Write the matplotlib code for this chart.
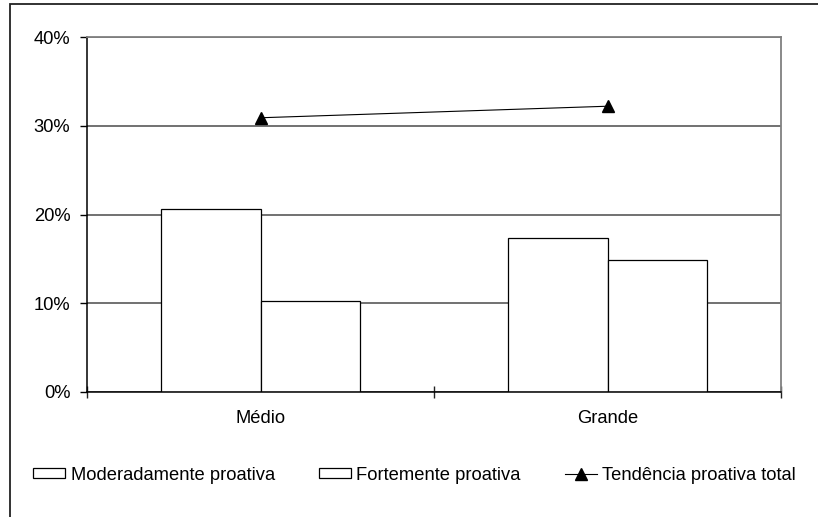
import matplotlib.pyplot as plt
import numpy as np
from matplotlib.patches import Rectangle

plt.rcParams['font.family'] = ['Liberation Sans', 'DejaVu Sans']

categorias = ['Médio', 'Grande']
moderada = [20.6, 17.3]
forte = [10.3, 14.9]
total = [m + f for m, f in zip(moderada, forte)]
yticks = [0, 10, 20, 30, 40]

x = np.arange(len(categorias))
width = 0.288
fs = 13.2

fig = plt.figure(figsize=(8.18, 5.17), dpi=100)
ax = fig.add_axes([87 / 818, 1 - 392 / 517, 694 / 818, 355 / 517])

# moldura externa (somente topo e esquerda aparecem)
fig.patches.append(Rectangle((10 / 818, -0.1), 1.2, 1 - 4 / 517 + 0.1,
                             transform=fig.transFigure, fill=False,
                             edgecolor='#222222', linewidth=1.3))

b1 = ax.bar(x - width, moderada, width, align='edge', color='white',
            edgecolor='black', linewidth=0.9, label='Moderadamente proativa', zorder=2)
b2 = ax.bar(x, forte, width, align='edge', color='white',
            edgecolor='black', linewidth=0.9, label='Fortemente proativa', zorder=2)
l1, = ax.plot(x, total, color='black', linewidth=0.8, marker='^', markersize=9,
              label='Tendência proativa total', zorder=3)

ax.set_xlim(-0.5, 1.5)
ax.set_ylim(0, 40)
ax.set_yticks(yticks)
ax.set_yticklabels([f'{v}%' for v in yticks])
ax.yaxis.grid(True, color='#4a4a4a', linewidth=1.1)
ax.set_axisbelow(True)

ax.set_xticks([-0.5, 0.5, 1.5])
ax.set_xticklabels([])
ax.set_xticks(x, minor=True)
ax.set_xticklabels(categorias, minor=True)
ax.tick_params(axis='x', which='major', direction='inout', length=9, width=1, color='#222222')
ax.tick_params(axis='x', which='minor', length=0, pad=13, labelsize=fs)
ax.tick_params(axis='y', direction='out', length=5, width=1, pad=7, labelsize=fs)

for side in ['top', 'right']:
    ax.spines[side].set_color('#808080')
    ax.spines[side].set_linewidth(1.3)
for side in ['left', 'bottom']:
    ax.spines[side].set_color('black')
    ax.spines[side].set_linewidth(1.1)

fig.legend(handles=[b1, b2, l1], loc='center left',
           bbox_to_anchor=(33 / 818, 1 - 475 / 517), ncol=3,
           frameon=False, fontsize=fs, borderpad=0, borderaxespad=0,
           handlelength=1.75, handleheight=0.5, handletextpad=0.3,
           columnspacing=2.4)

fig.savefig('out.png', dpi=100)
